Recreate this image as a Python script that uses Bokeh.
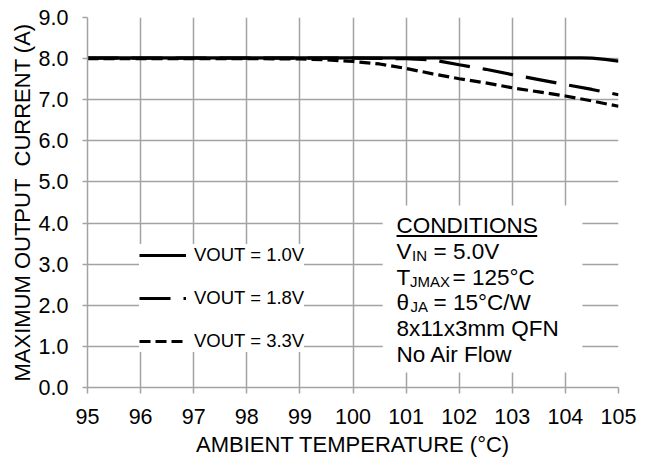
from bokeh.plotting import figure
from bokeh.models import (Legend, LegendItem, Label, BoxAnnotation, Range1d,
                          FixedTicker, NumeralTickFormatter)
from bokeh.embed import file_html
from bokeh.resources import INLINE

# ---------------- data ----------------
temp_10 = [95, 96, 97, 98, 99, 100, 101, 102, 103, 104, 104.3, 104.5, 104.75, 105]
iout_10 = [8.02, 8.02, 8.02, 8.02, 8.02, 8.02, 8.02, 8.02, 8.02, 8.02, 8.02, 8.01, 7.98, 7.94]

temp_18 = [95, 96, 97, 98, 99, 100, 101, 101.5, 102, 102.5, 103, 103.5, 104, 104.5, 105]
iout_18 = [8.01, 8.01, 8.01, 8.01, 8.01, 8.01, 8.0, 7.97, 7.85, 7.74, 7.61, 7.49, 7.37, 7.25, 7.12]

temp_33 = [95, 96, 97, 98, 99, 99.5, 100, 100.5, 101, 101.5, 102, 102.5, 103, 103.5, 104, 104.5, 105]
iout_33 = [8.0, 8.0, 8.0, 8.0, 7.99, 7.97, 7.93, 7.87, 7.76, 7.63, 7.51, 7.41, 7.29, 7.19, 7.09, 6.97, 6.84]

series_labels = ["VOUT = 1.0V", "VOUT = 1.8V", "VOUT = 3.3V"]
x_ticks = [95, 96, 97, 98, 99, 100, 101, 102, 103, 104, 105]
y_ticks = [0, 1, 2, 3, 4, 5, 6, 7, 8, 9]

FONT = "Liberation Sans"
GRID = "#a3a3a3"

p = figure(width=653, height=459, output_backend="svg", toolbar_location=None,
           x_range=Range1d(95, 105), y_range=Range1d(0, 9),
           min_border_left=87, min_border_right=35, min_border_top=17,
           min_border_bottom=72)
p.outline_line_color = None
p.background_fill_color = "white"
p.border_fill_color = "white"

# grid
for g in (p.xgrid, p.ygrid):
    g.grid_line_color = GRID
    g.grid_line_width = 1.5
p.xgrid.ticker = FixedTicker(ticks=x_ticks)
p.ygrid.ticker = FixedTicker(ticks=y_ticks)

# axes
p.xaxis.ticker = FixedTicker(ticks=x_ticks)
p.yaxis.ticker = FixedTicker(ticks=y_ticks)
p.yaxis.formatter = NumeralTickFormatter(format="0.0")
for ax in (p.xaxis, p.yaxis):
    ax.axis_line_color = GRID
    ax.axis_line_width = 1.5
    ax.major_tick_line_color = GRID
    ax.major_tick_line_width = 1.5
    ax.major_tick_in = 0
    ax.minor_tick_line_color = None
    ax.major_label_text_font = FONT
    ax.major_label_text_font_size = "21.5px"
    ax.major_label_text_color = "black"
    ax.axis_label_text_font = FONT
    ax.axis_label_text_font_size = "22px"
    ax.axis_label_text_font_style = "normal"
    ax.axis_label_text_color = "black"
p.xaxis.major_tick_out = 6
p.yaxis.major_tick_out = 5
p.xaxis.major_label_standoff = 15
p.yaxis.major_label_standoff = 14
p.xaxis.axis_label = "AMBIENT TEMPERATURE (°C)"
p.yaxis.axis_label = "MAXIMUM OUTPUT\u00a0 CURRENT (A)"
p.xaxis.axis_label_standoff = 5
p.yaxis.axis_label_standoff = 1

# curves
r10 = p.line(temp_10, iout_10, line_color="black", line_width=3.2)
r18 = p.line(temp_18, iout_18, line_color="black", line_width=3.2, line_dash="31 13")
r33 = p.line(temp_33, iout_33, line_color="black", line_width=3.2, line_dash="11 5")

legend = Legend(items=[LegendItem(label=series_labels[0], renderers=[r10]),
                       LegendItem(label=series_labels[1], renderers=[r18]),
                       LegendItem(label=series_labels[2], renderers=[r33])],
                location=(52, 35), padding=12, margin=0, spacing=21,
                glyph_width=47, glyph_height=20, label_height=20, label_standoff=8,
                border_line_color=None, background_fill_color="white",
                background_fill_alpha=1.0, label_text_font=FONT,
                label_text_font_size="18.5px", label_text_color="black")
p.add_layout(legend, "center")

# conditions box
p.add_layout(BoxAnnotation(left=100.56, right=104.32, bottom=0.365, top=4.43,
                           fill_color="white", fill_alpha=1.0, line_color=None))

cx = 100.82
SHIFT = 8
def lab(text, y, dx=0, dy=0, size="22.5px"):
    p.add_layout(Label(x=cx, y=y, text=text, x_offset=dx, y_offset=dy + SHIFT,
                       text_font=FONT, text_font_size=size, text_color="black",
                       text_baseline="alphabetic", text_align="left"))

lab("CONDITIONS", 3.746)
lab("V", 3.114)
lab("IN", 3.114, dx=15.5, dy=-4, size="15px")
lab("= 5.0V", 3.114, dx=37)
lab("T", 2.481)
lab("JMAX", 2.481, dx=13.5, dy=-4, size="15px")
lab("= 125°C", 2.481, dx=56)
lab("θ", 1.873)
lab("JA", 1.873, dx=14, dy=-4, size="15px")
lab("= 15°C/W", 1.873, dx=37)
lab("8x11x3mm QFN", 1.241)
lab("No Air Flow", 0.608)

# underline of CONDITIONS
p.segment(x0=[cx], y0=[3.685], x1=[103.47], y1=[3.685], line_color="black",
          line_width=2, level="overlay")

open("out.html", "w").write(file_html(p, INLINE))
